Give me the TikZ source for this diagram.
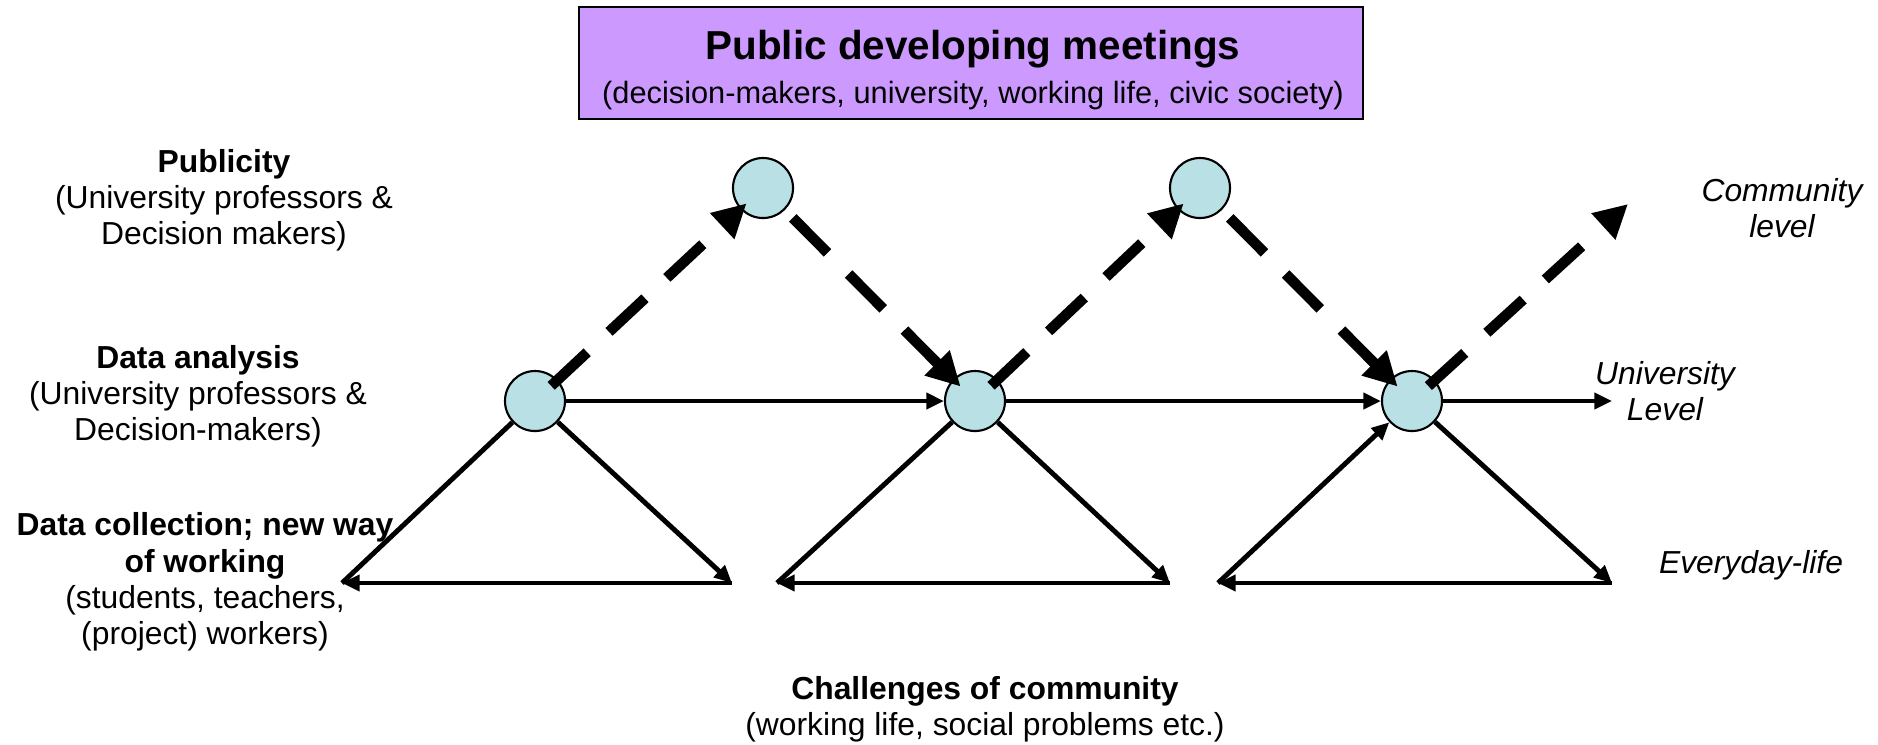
\documentclass[tikz,border=0pt]{standalone}
\usepackage{fontspec}
\setmainfont{Liberation Sans}
\usetikzlibrary{arrows.meta}
\definecolor{boxpurple}{RGB}{204,153,255}
\definecolor{circblue}{RGB}{185,224,228}
\begin{document}
\begin{tikzpicture}[x=0.01cm,y=-0.01cm,
  dot/.style={circle,draw=black,line width=0.6pt,fill=circblue,minimum size=0.6cm,inner sep=0pt},
  thinline/.style={line width=1.4pt},
  thinarrow/.style={line width=1.4pt,-{Triangle[length=5pt,width=4.5pt]}},
  dasharrow/.style={line width=3pt,dash pattern=on 14pt off 8.5pt,-{Triangle[length=9.5pt,width=9.5pt]}},
  lbl/.style={align=center,font=\fontsize{9.05}{10.3}\selectfont,inner sep=0pt},
  ilbl/.style={lbl,font=\fontsize{9.05}{10.3}\selectfont\itshape},
]
\useasboundingbox (0,0) rectangle (1878,744);
% title box
\node[draw=black,line width=0.5pt,fill=boxpurple,minimum width=7.83cm,minimum height=1.12cm,inner sep=0pt] (title) at (971,63) {};
\node[font=\fontsize{11.5}{13}\selectfont\bfseries,inner sep=0pt] (titletxt) at (973,49) {Public developing meetings};
\node[lbl,font=\fontsize{8.75}{10.3}\selectfont] (titlesub) at (973,96) {(decision-makers, university, working life, civic society)};
% circles
\node[dot] (c1) at (535,401) {};
\node[dot] (c2) at (975,401) {};
\node[dot] (c3) at (1412,401) {};
\node[dot] (t1) at (763,188) {};
\node[dot] (t2) at (1200,188) {};
% triangle vertices
\coordinate (bl1) at (342,583);
\coordinate (br1) at (732,583);
\coordinate (bl2) at (777,583);
\coordinate (br2) at (1170,583);
\coordinate (bl3) at (1218,583);
\coordinate (br3) at (1612,583);
\coordinate (uend) at (1612,401);
\coordinate (cend) at (1628,204);
% triangles
\draw[thinline] (bl1) -- (c1);
\draw[thinarrow] (c1) -- (br1);
\draw[thinarrow] (br1) -- (bl1);
\draw[thinline] (bl2) -- (c2);
\draw[thinarrow] (c2) -- (br2);
\draw[thinarrow] (br2) -- (bl2);
\draw[thinarrow] (bl3) -- (c3);
\draw[thinarrow] (c3) -- (br3);
\draw[thinarrow] (br3) -- (bl3);
% horizontal
\draw[thinarrow] (c1) -- (c2);
\draw[thinarrow] (c2) -- (c3);
\draw[thinarrow] (c3) -- (uend);
% dashed
\draw[dasharrow,shorten <=6.3pt,shorten >=6.4pt] (c1.center) -- (t1.center);
\draw[dasharrow,shorten <=12pt,shorten >=5.8pt] (t1.center) -- (c2.center);
\draw[dasharrow,shorten <=6.3pt,shorten >=6.4pt] (c2.center) -- (t2.center);
\draw[dasharrow,shorten <=12pt,shorten >=5.8pt] (t2.center) -- (c3.center);
\draw[dasharrow,shorten <=6.3pt] (c3.center) -- (cend);
% labels
\node[lbl] (publicity) at (224,200) {\textbf{Publicity}\\(University professors \&\\Decision makers)};
\node[lbl] (analysis) at (198,396) {\textbf{Data analysis}\\(University professors \&\\Decision-makers)};
\node[lbl] (collection) at (205,582) {\textbf{Data collection; new way}\\\textbf{of working}\\(students, teachers,\\(project) workers)};
\node[lbl] (challenges) at (985,709) {\textbf{Challenges of community}\\(working life, social problems etc.)};
\node[ilbl] (community) at (1782,208) {Community\\level};
\node[ilbl] (university) at (1665,391) {University\\Level};
\node[ilbl] (everyday) at (1751,565) {Everyday-life};
\end{tikzpicture}
\end{document}
